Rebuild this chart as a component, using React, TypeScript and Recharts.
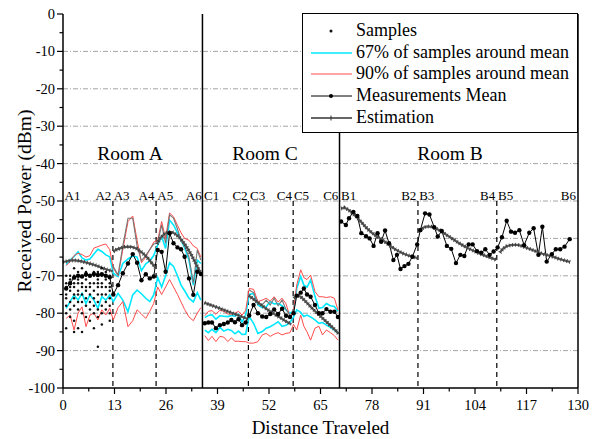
import React from 'react';
import { ComposedChart, Line, Scatter, XAxis, YAxis, ReferenceLine, Legend } from 'recharts';

const FONT = "'Liberation Serif', 'DejaVu Serif', serif";
const CYAN = '#00e8ff';
const RED = '#ff4a4a';
const GRAY = '#767676';

// ---------- Room A ----------
const xA12 = [0.8, 1.8, 2.8, 3.8, 4.8, 5.8, 6.8, 7.8, 8.8, 9.8, 10.8, 11.8];
const meanA12 = [-73.4, -72.0, -70.5, -70.0, -70.2, -69.6, -70.0, -69.5, -69.8, -69.6, -70.0, -70.4];
const cyanUpA12 = [-67.0, -65.8, -64.8, -63.6, -65.2, -65.8, -65.5, -64.2, -62.9, -63.5, -64.4, -64.9];
const redUpA12 = [-67.3, -66.2, -64.6, -64.0, -64.3, -65.0, -64.6, -62.6, -62.2, -61.8, -61.5, -63.0];
const cyanLoA12 = [-78.7, -76.9, -75.1, -76.5, -74.7, -77.4, -75.1, -76.5, -78.7, -75.6, -76.5, -75.1];
const redLoA12 = [-81.4, -80.5, -84.5, -80.0, -78.3, -83.6, -80.5, -80.0, -81.8, -79.1, -80.5, -78.7];

const xA34 = [12.7, 13.9, 15.1, 16.4, 17.6, 18.7, 19.8, 20.9, 21.9, 22.9];
const meanA34 = [-75.0, -72.5, -69.3, -66.7, -64.2, -66.5, -71.2, -69.6, -70.7, -70.2];
const grayA34 = [-67.5, -69.8, -62.0, -54.6, -54.6, -62.0, -66.0, -64.5, -63.0, -61.5];
const redUpA34 = [-68.0, -70.0, -63.0, -55.5, -54.0, -60.5, -66.5, -65.0, -63.0, -61.0];
const cyanUpA34 = [-69.3, -70.2, -66.7, -65.5, -64.7, -65.0, -68.6, -66.8, -66.0, -64.6];
const cyanLoA34 = [-76.9, -74.7, -76.5, -79.6, -75.1, -73.8, -74.8, -76.0, -76.9, -75.1];
const redLoA34 = [-81.8, -78.5, -76.9, -83.6, -82.0, -79.1, -80.2, -81.4, -79.5, -77.4];

const xA56 = [23.9, 24.9, 25.9, 26.9, 27.9, 28.9, 29.8, 30.7, 31.8, 32.9, 33.9, 34.8];
const meanA56 = [-63.1, -63.6, -68.9, -58.6, -61.3, -62.4, -62.9, -64.9, -70.7, -75.1, -68.9, -69.5];
const grayA56 = [-61.3, -56.4, -61.3, -53.7, -54.6, -57.5, -60.5, -62.0, -65.0, -72.0, -63.1, -65.8];
const redUpA56 = [-60.5, -55.5, -60.0, -53.2, -54.2, -56.5, -58.5, -60.0, -60.5, -62.0, -62.7, -65.0];
const cyanUpA56 = [-61.8, -59.5, -62.7, -55.1, -56.4, -58.5, -60.5, -62.5, -65.8, -72.5, -65.8, -66.7];
const cyanLoA56 = [-70.5, -73.0, -70.0, -66.5, -67.5, -70.0, -72.5, -74.0, -76.0, -77.0, -74.5, -76.5];
const redLoA56 = [-73.0, -75.0, -73.0, -71.0, -73.0, -75.0, -77.0, -79.0, -81.0, -82.0, -80.0, -78.5];

// raw samples around A1-A2, one column per measurement position (xA12)
const samplesA12: number[][] = [
  [-70, -72, -73, -75, -76, -78, -80, -84],
  [-70, -71, -73, -74, -77, -79, -81],
  [-68, -70, -72, -73, -75, -76, -78, -82, -85],
  [-69, -71, -72, -74, -75, -77, -79, -84],
  [-68, -70, -72, -73, -75, -77, -80, -85],
  [-69, -70, -71, -73, -74, -76, -78, -81],
  [-70, -72, -73, -75, -77, -79, -82],
  [-69, -70, -72, -74, -76, -78, -80, -84],
  [-69, -71, -72, -73, -75, -77, -79, -81, -89],
  [-68, -70, -72, -73, -75, -78, -80, -83],
  [-69, -70, -71, -73, -75, -77, -79],
  [-70, -72, -73, -74, -76, -78, -80, -82],
];

// ---------- Room C ----------
const xC12 = [35.8, 36.7, 37.6, 38.6, 39.6, 40.6, 41.6, 42.5, 43.4, 44.3, 45.2, 46.1];
const meanC12 = [-82.7, -82.5, -82.5, -84.0, -83.2, -82.9, -82.5, -81.8, -82.4, -81.6, -83.2, -82.5];
const redUpC12 = [-80.7, -79.5, -79.3, -80.3, -79.2, -79.5, -80.2, -80.3, -80.0, -79.5, -80.5, -79.3];
const cyanUpC12 = [-81.2, -80.6, -80.4, -81.6, -80.7, -80.8, -80.9, -80.6, -80.8, -80.3, -82.4, -80.5];
const cyanLoC12 = [-84.5, -85.2, -84.3, -85.2, -83.8, -84.8, -84.3, -84.6, -85.5, -84.8, -85.7, -85.6];
const redLoC12 = [-86.0, -87.3, -86.2, -87.6, -86.2, -86.4, -87.6, -86.6, -87.5, -87.5, -87.6, -87.6];

const xC34 = [47.0, 48.1, 49.2, 50.3, 51.3, 52.3, 53.3, 54.3, 55.3, 56.3, 57.3];
const meanC34 = [-80.6, -77.8, -80.0, -80.9, -81.0, -80.2, -79.0, -80.2, -78.8, -80.7, -81.0];
const grayC34 = [-73.8, -74.5, -77.5, -77.8, -76.5, -77.8, -76.0, -78.0, -76.5, -79.0, -80.5];
const redUpC34 = [-73.4, -73.6, -76.9, -76.5, -76.0, -76.8, -75.6, -77.0, -76.0, -77.5, -81.0];
const cyanUpC34 = [-75.0, -74.7, -77.8, -78.5, -78.3, -76.9, -77.5, -77.4, -78.0, -79.1, -80.0];
const cyanLoC34 = [-80.9, -82.7, -85.4, -84.9, -84.0, -83.6, -83.0, -82.3, -83.5, -83.2, -82.5];
const redLoC34 = [-88.0, -88.0, -87.6, -85.8, -85.4, -86.2, -85.6, -85.2, -85.8, -85.4, -85.2];

const xC56 = [58.2, 59.0, 60.0, 60.8, 61.6, 62.5, 63.6, 64.6, 65.5, 66.5, 67.5, 68.5, 69.4];
const meanC56 = [-80.0, -75.3, -74.5, -73.4, -75.0, -75.6, -77.8, -80.0, -80.0, -78.9, -79.6, -79.6, -81.0];
const redUpC56 = [-79.0, -72.5, -68.4, -70.5, -71.0, -69.8, -74.2, -75.6, -75.6, -75.8, -75.6, -76.0, -79.1];
const cyanUpC56 = [-79.5, -73.4, -70.2, -72.5, -73.0, -71.1, -75.5, -78.7, -78.5, -77.4, -78.0, -78.2, -79.5];
const cyanLoC56 = [-81.0, -79.1, -79.8, -80.9, -80.5, -81.0, -81.8, -82.7, -82.5, -83.2, -83.8, -84.5, -85.4];
const redLoC56 = [-83.0, -84.5, -80.5, -83.5, -85.0, -87.2, -84.0, -83.5, -85.8, -84.5, -85.2, -86.0, -87.2];

// ---------- Room B ----------
const xB12 = [70.2, 71.4, 72.2, 73.3, 74.3, 75.3, 76.5, 77.4, 78.4, 79.4, 80.3, 81.3, 82.3, 83.4, 84.3, 85.2, 86.2, 87.2, 88.2, 89.4];
const meanB12 = [-55.5, -56.4, -54.6, -52.9, -54.0, -58.6, -59.4, -60.0, -62.0, -58.6, -60.9, -57.9, -61.3, -65.8, -64.4, -68.2, -67.4, -66.8, -64.9, -61.6];
const xB34 = [90.2, 91.4, 92.5, 93.7, 94.6, 95.6, 96.9, 98.0, 99.2, 100.3, 101.3, 102.4, 103.4, 104.5, 105.6, 106.6, 107.7, 108.7, 109.7];
const meanB34 = [-57.8, -53.3, -53.6, -57.0, -59.5, -58.0, -62.0, -62.8, -66.6, -64.4, -64.7, -61.6, -61.6, -63.4, -63.8, -62.9, -64.4, -63.5, -62.4];
const xB56 = [110.8, 112.0, 113.1, 114.1, 115.2, 116.4, 117.7, 118.8, 120.0, 121.0, 122.1, 123.4, 124.4, 125.5, 126.6, 127.9];
const meanB56 = [-59.7, -55.3, -58.2, -58.5, -57.8, -61.8, -58.5, -57.3, -64.4, -56.9, -66.2, -64.2, -62.9, -62.9, -62.2, -60.2];

// ---------- Estimation (model) ----------
const estXA12 = [0, 1, 2, 3, 4, 5, 6, 7, 8, 9, 10, 11, 12, 12.5];
const estA12 = [-66.3, -66.1, -65.9, -65.9, -66.0, -66.2, -66.5, -66.8, -67.1, -67.5, -67.9, -68.3, -68.6, -68.8];
const estXA34 = [12.7, 13.5, 14.5, 15.5, 16.5, 17.5, 18.5, 19.5, 20.5, 21.5, 22.5, 23.3];
const estA34 = [-63.5, -63.0, -62.6, -62.3, -62.2, -62.3, -62.7, -63.4, -64.3, -65.4, -66.7, -67.8];
const estXA56 = [23.7, 24.5, 25.5, 26.5, 27.5, 28.5, 29.5, 30.5, 31.5, 32.5, 33.5, 34.5, 35.0];
const estA56 = [-61.5, -60.0, -58.9, -58.3, -58.3, -58.9, -59.9, -61.2, -62.8, -64.6, -66.7, -68.7, -69.5];
const estXC12 = [35.7, 37, 38, 39, 40, 41, 42, 43, 44, 45, 46, 46.5];
const estC12 = [-77.2, -77.7, -78.1, -78.5, -78.9, -79.3, -79.7, -80.1, -80.5, -80.9, -81.3, -81.5];
const estXC34 = [46.9, 48, 49, 50, 51, 52, 53, 54, 55, 56, 57, 57.6];
const estC34 = [-75.3, -76.2, -77.0, -77.8, -78.6, -79.3, -80.0, -80.7, -81.3, -82.0, -82.6, -83.0];
const estXC56 = [58.3, 59, 60, 61, 62, 63, 64, 65, 66, 67, 68, 69, 69.6];
const estC56 = [-76.0, -75.2, -75.6, -76.6, -77.7, -78.8, -79.8, -80.8, -81.8, -82.8, -83.8, -84.8, -85.5];
const estXB12 = [70.2, 71, 72, 73, 74, 75, 76, 77, 78, 79, 80, 81, 82, 83, 84, 85, 86, 87, 88, 89, 89.6];
const estB12 = [-52.0, -51.8, -52.3, -53.2, -54.2, -55.3, -56.5, -57.6, -58.5, -59.3, -60.0, -60.7, -61.5, -62.3, -63.0, -63.6, -64.1, -64.5, -64.8, -65.1, -65.3];
const estXB34 = [90.1, 91, 92, 93, 94, 95, 96, 97, 98, 99, 100, 101, 102, 103, 104, 105, 106, 107, 108, 109, 109.4];
const estB34 = [-57.8, -57.1, -56.8, -56.9, -57.3, -57.8, -58.5, -59.2, -59.9, -60.6, -61.3, -61.9, -62.5, -63.0, -63.5, -64.0, -64.4, -64.8, -65.2, -65.6, -65.8];
const estXB56 = [110.3, 111, 112, 113, 114, 115, 116, 117, 118, 119, 120, 121, 122, 123, 124, 125, 126, 127, 128];
const estB56 = [-63.8, -62.8, -62.1, -61.8, -61.7, -61.8, -62.1, -62.5, -62.9, -63.3, -63.7, -64.1, -64.4, -64.7, -65.0, -65.4, -65.7, -66.0, -66.3];

// ---------- annotations ----------
const roomNames = ['Room A', 'Room C', 'Room B'];
const roomX = [16.9, 51.0, 97.7];
const pointNames = ['A1', 'A2', 'A3', 'A4', 'A5', 'A6', 'C1', 'C2', 'C3', 'C4', 'C5', 'C6', 'B1', 'B2', 'B3', 'B4', 'B5', 'B6'];
const pointX = [0.4, 12.2, 12.8, 23.1, 23.8, 35.0, 35.6, 46.6, 47.2, 57.8, 58.3, 69.5, 70.2, 89.2, 89.9, 109.1, 109.8, 129.5];
const pointAnchor = ['start', 'end', 'start', 'end', 'start', 'end', 'start', 'end', 'start', 'end', 'start', 'end', 'start', 'end', 'start', 'end', 'start', 'end'];
const roomBorders = [35.2, 69.8];
const zoneBorders = [12.6, 23.5, 46.8, 58.1, 89.6, 109.5];
const gridValues = [-10, -20, -30, -40, -50, -60, -70, -80, -90];
const yTicks = [0, -5, -10, -15, -20, -25, -30, -35, -40, -45, -50, -55, -60, -65, -70, -75, -80, -85, -90, -95, -100];
const xTicks = [0, 6.5, 13, 19.5, 26, 32.5, 39, 45.5, 52, 58.5, 65, 71.5, 78, 84.5, 91, 97.5, 104, 110.5, 117, 123.5, 130];
const legendLabels = ['Samples', '67% of samples around mean', '90% of samples around mean', 'Measurements Mean', 'Estimation'];

// ---------- helpers ----------
type P = { x: number; y: number | null };
const seg = (xs: number[], ys: number[]): P[] => xs.map((x, i) => ({ x, y: ys[i] }));
const withBreaks = (...segs: P[][]): P[] =>
  segs.flatMap((s, i) => (i === 0 ? s : [{ x: segs[i - 1][segs[i - 1].length - 1].x, y: null }, ...s]));

const meanData = withBreaks(
  [...seg(xA12, meanA12), ...seg(xA34, meanA34), ...seg(xA56, meanA56)],
  [...seg(xC12, meanC12), ...seg(xC34, meanC34), ...seg(xC56, meanC56)],
  [...seg(xB12, meanB12), ...seg(xB34, meanB34), ...seg(xB56, meanB56)]
);
const band = (a12: number[], a34: number[], a56: number[], c12: number[], c34: number[], c56: number[]) =>
  withBreaks(
    [...seg(xA12, a12), ...seg(xA34, a34), ...seg(xA56, a56)],
    [...seg(xC12, c12), ...seg(xC34, c34), ...seg(xC56, c56)]
  );
const cyanUp = band(cyanUpA12, cyanUpA34, cyanUpA56, cyanUpC12, cyanUpC34, cyanUpC56);
const cyanLo = band(cyanLoA12, cyanLoA34, cyanLoA56, cyanLoC12, cyanLoC34, cyanLoC56);
const redUp = band(redUpA12, redUpA34, redUpA56, redUpC12, redUpC34, redUpC56);
const redLo = band(redLoA12, redLoA34, redLoA56, redLoC12, redLoC34, redLoC56);
const grayUp = withBreaks([...seg(xA34, grayA34), ...seg(xA56, grayA56)], seg(xC34, grayC34));
const estData = withBreaks(
  seg(estXA12, estA12), seg(estXA34, estA34), seg(estXA56, estA56),
  seg(estXC12, estC12), seg(estXC34, estC34), seg(estXC56, estC56),
  seg(estXB12, estB12), seg(estXB34, estB34), seg(estXB56, estB56)
);
const sampleData = samplesA12.flatMap((col, i) => col.map((y) => ({ x: xA12[i], y })));
const roomLabelData = roomNames.map((t, i) => ({ x: roomX[i], y: -39, t, a: 'middle', s: 19.5 }));
const pointLabelData = pointNames.map((t, i) => ({ x: pointX[i], y: -49.6, t, a: pointAnchor[i], s: 13 }));

// ---------- renderers ----------
const TextShape = (p: any) => (
  <text x={p.cx} y={p.cy} textAnchor={p.payload.a} style={{ fontFamily: FONT }} fontSize={p.payload.s} fill="#000">
    {p.payload.t}
  </text>
);
const DotShape = (p: any) => <circle cx={p.cx} cy={p.cy} r={1.25} fill="#111" />;

const YTick = (p: any) => {
  const v = p.payload.value;
  const major = v % 10 === 0;
  return (
    <g>
      <line x1={p.x - (major ? 6 : 3.5)} x2={p.x} y1={p.y} y2={p.y} stroke="#000" strokeWidth={1.2} />
      {major && (
        <text x={p.x - 8} y={p.y + 5} textAnchor="end" style={{ fontFamily: FONT }} fontSize={14.5} fill="#000">
          {v}
        </text>
      )}
    </g>
  );
};
const XTick = (p: any) => {
  const v = p.payload.value;
  const major = Math.abs(v / 13 - Math.round(v / 13)) < 1e-6;
  return (
    <g>
      <line x1={p.x} x2={p.x} y1={p.y} y2={p.y + (major ? 6 : 3.5)} stroke="#000" strokeWidth={1.2} />
      {major && (
        <text x={p.x} y={p.y + 22} textAnchor="middle" style={{ fontFamily: FONT }} fontSize={14.5} fill="#000">
          {v}
        </text>
      )}
    </g>
  );
};

const Swatch = ({ i }: { i: number }) => (
  <svg width={53} height={21.7} style={{ flex: 'none', display: 'block' }}>
    {i === 0 && <circle cx={28} cy={11} r={1.5} fill="#111" />}
    {i === 1 && <line x1={8} x2={49} y1={11} y2={11} stroke={CYAN} strokeWidth={1.6} />}
    {i === 2 && <line x1={8} x2={49} y1={11} y2={11} stroke={RED} strokeWidth={1} />}
    {i === 3 && (
      <g>
        <line x1={8} x2={49} y1={11} y2={11} stroke="#000" strokeWidth={1} />
        <circle cx={28} cy={11} r={2} fill="#000" />
      </g>
    )}
    {i === 4 && (
      <g>
        <line x1={8} x2={49} y1={11} y2={11} stroke="#333" strokeWidth={1.4} />
        <line x1={28} x2={28} y1={8.5} y2={13.5} stroke="#333" strokeWidth={1} />
      </g>
    )}
  </svg>
);

const LegendBox = () => (
  <div
    style={{
      width: 276,
      height: 120,
      boxSizing: 'border-box',
      border: '1px solid #000',
      background: '#fff',
      paddingTop: 6,
      fontFamily: FONT,
      fontSize: 18,
      color: '#000',
    }}
  >
    {legendLabels.map((t, i) => (
      <div key={t} style={{ display: 'flex', alignItems: 'center', height: 21.7 }}>
        <Swatch i={i} />
        <span style={{ whiteSpace: 'nowrap', lineHeight: '21.7px' }}>{t}</span>
      </div>
    ))}
  </div>
);

export default function App() {
  return (
    <div style={{ position: 'absolute', left: 0, top: 0, width: 602, height: 439, background: '#fff', fontFamily: FONT }}>
      <ComposedChart width={602} height={439} margin={{ top: 14, right: 24, left: 0, bottom: 0 }} style={{ fontFamily: FONT }}>
        <XAxis
          dataKey="x"
          type="number"
          domain={[0, 130]}
          ticks={xTicks}
          interval={0}
          tickSize={0}
          tickMargin={0}
          tick={<XTick />}
          height={51}
          axisLine={{ stroke: '#000', strokeWidth: 1.5 }}
          tickLine={false}
          label={(props: any) => {
            const vb = props.viewBox || { x: 63, y: 388, width: 515, height: 51 };
            const cx = vb.x + vb.width / 2;
            return (
              <text x={cx} y={vb.y + 46} textAnchor="middle" style={{ fontFamily: FONT }} fontSize={19} fill="#000">
                Distance Traveled
              </text>
            );
          }}
        />
        <YAxis
          dataKey="y"
          type="number"
          domain={[-100, 0]}
          ticks={yTicks}
          interval={0}
          tickSize={0}
          tickMargin={0}
          tick={<YTick />}
          width={63}
          axisLine={{ stroke: '#000', strokeWidth: 1.5 }}
          tickLine={false}
          label={(props: any) => {
            const vb = props.viewBox || { x: 0, y: 14, width: 63, height: 374 };
            const cx = vb.x + 31;
            const cy = vb.y + vb.height / 2;
            return (
              <text
                x={cx}
                y={cy}
                transform={`rotate(-90, ${cx}, ${cy})`}
                textAnchor="middle"
                style={{ fontFamily: FONT }}
                fontSize={19.5}
                fill="#000"
              >
                Received Power (dBm)
              </text>
            );
          }}
        />
        {gridValues.map((v) => (
          <ReferenceLine key={`g${v}`} y={v} stroke="#9a9a9a" strokeWidth={0.9} strokeDasharray="5 2 1 2" />
        ))}
        {roomBorders.map((v) => (
          <ReferenceLine key={`r${v}`} x={v} stroke="#000" strokeWidth={1.5} />
        ))}
        {zoneBorders.map((v) => (
          <ReferenceLine
            key={`z${v}`}
            segment={[{ x: v, y: -50 }, { x: v, y: -100 }]}
            stroke="#000"
            strokeWidth={1.2}
            strokeDasharray="5 4"
          />
        ))}
        <ReferenceLine x={130} stroke="#000" strokeWidth={1.5} />

        <Scatter name="Samples" data={sampleData} shape={DotShape} isAnimationActive={false} />
        <Line data={cyanUp} dataKey="y" name="67% of samples around mean" stroke={CYAN} strokeWidth={1.6} dot={false} isAnimationActive={false} />
        <Line data={cyanLo} dataKey="y" legendType="none" stroke={CYAN} strokeWidth={1.6} dot={false} isAnimationActive={false} />
        <Line data={redUp} dataKey="y" name="90% of samples around mean" stroke={RED} strokeWidth={1} dot={false} isAnimationActive={false} />
        <Line data={redLo} dataKey="y" legendType="none" stroke={RED} strokeWidth={1} dot={false} isAnimationActive={false} />
        <Line data={grayUp} dataKey="y" legendType="none" stroke={GRAY} strokeWidth={1.1} dot={false} isAnimationActive={false} />
        <Line
          data={meanData}
          dataKey="y"
          name="Measurements Mean"
          stroke="#000"
          strokeWidth={1}
          dot={{ r: 2.2, fill: '#000', stroke: '#000', strokeWidth: 0 }}
          isAnimationActive={false}
        />
        <Line data={estData} dataKey="y" name="Estimation" stroke="#555" strokeWidth={2.2} dot={false} isAnimationActive={false} />
        <Line data={estData} dataKey="y" legendType="none" stroke="#3a3a3a" strokeWidth={4} strokeDasharray="0.8 2.2" dot={false} isAnimationActive={false} />

        <Scatter data={roomLabelData} shape={TextShape} legendType="none" isAnimationActive={false} />
        <Scatter data={pointLabelData} shape={TextShape} legendType="none" isAnimationActive={false} />

        <Legend
          layout="horizontal"
          verticalAlign="middle"
          align="center"
          content={() => <LegendBox />}
          wrapperStyle={{ position: 'absolute', left: 302, top: 13, width: 276, height: 120, margin: 0 }}
        />
      </ComposedChart>
    </div>
  );
}
